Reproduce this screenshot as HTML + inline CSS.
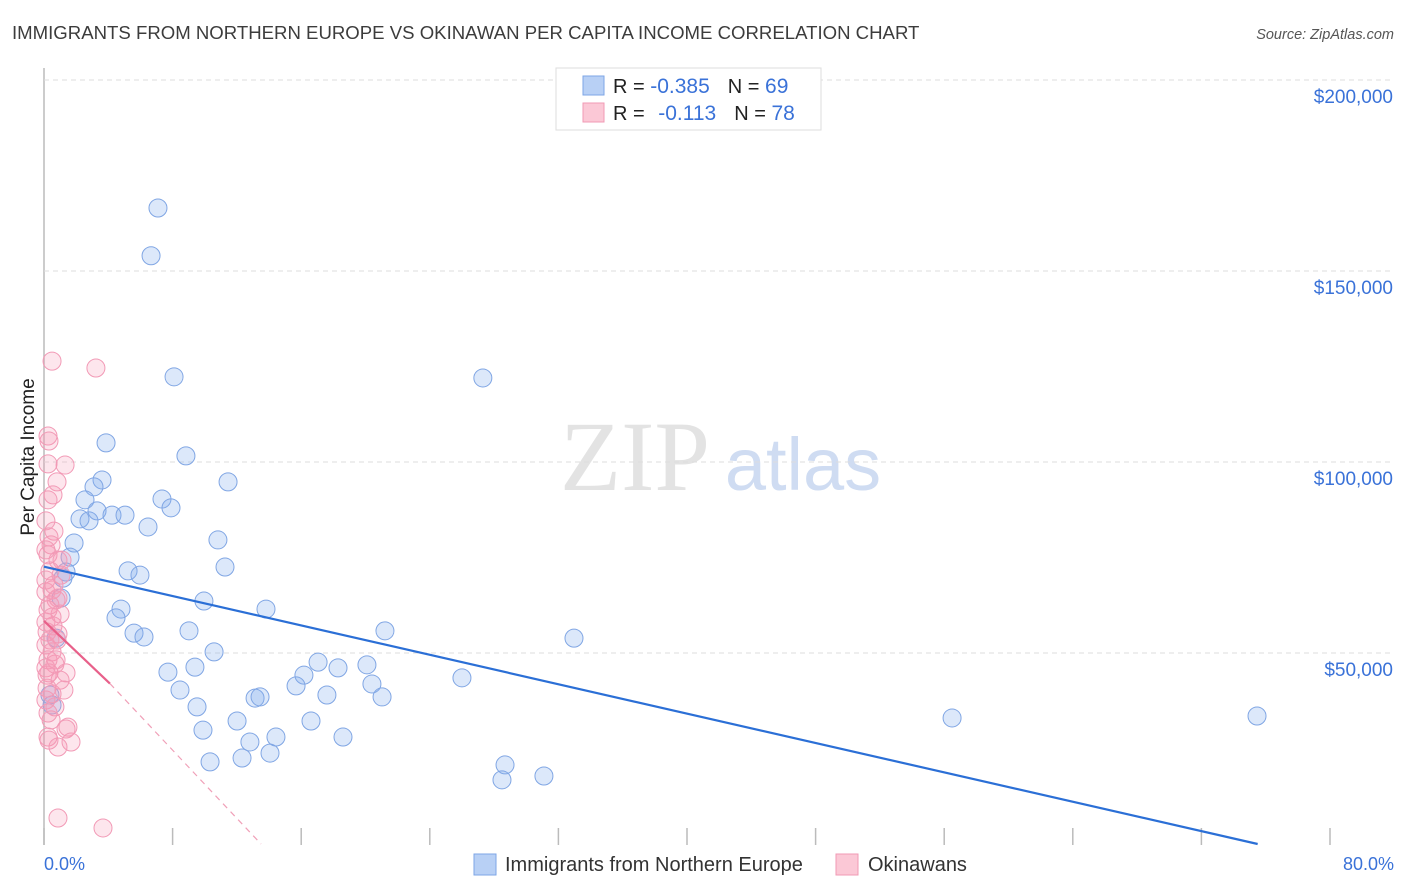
<!DOCTYPE html>
<html><head><meta charset="utf-8"><style>
body{margin:0;background:#fff;font-family:"Liberation Sans",sans-serif;}
svg{display:block}
</style></head><body>
<svg id="chart" width="1406" height="892">
<text x="12" y="39" font-size="18.6" fill="#3c3c3c">IMMIGRANTS FROM NORTHERN EUROPE VS OKINAWAN PER CAPITA INCOME CORRELATION CHART</text>
<text x="1394" y="39" font-size="14.5" fill="#555" font-style="italic" text-anchor="end">Source: ZipAtlas.com</text>
<text x="635" y="490" font-size="100" fill="#e3e3e3" font-family="Liberation Serif,serif" text-anchor="middle">ZIP</text>
<text x="803" y="490" font-size="74" fill="#cfdcf2" text-anchor="middle">atlas</text>
<text transform="translate(34,457) rotate(-90)" font-size="19" fill="#222" text-anchor="middle">Per Capita Income</text>
<g id="grid"></g><g id="marks"></g>
<rect x="556" y="68" width="265" height="62" fill="#fff" stroke="#ddd"/>
<rect x="583" y="76" width="21" height="19" fill="#b8d0f5" stroke="#7ea6e6"/>
<text x="613" y="93" font-size="20" fill="#222">R = <tspan fill="#3a72d8" font-size="21">-0.385</tspan><tspan dx="18">N = </tspan><tspan fill="#3a72d8" font-size="21">69</tspan></text>
<rect x="583" y="103" width="21" height="19" fill="#fbc8d6" stroke="#f09ab4"/>
<text x="613" y="120" font-size="20" fill="#222">R = <tspan dx="8" fill="#3a72d8" font-size="21">-0.113</tspan><tspan dx="18">N = </tspan><tspan fill="#3a72d8" font-size="21">78</tspan></text>
<text x="44" y="870" font-size="18" fill="#3a72d8">0.0%</text>
<text x="1394" y="870" font-size="18" fill="#3a72d8" text-anchor="end">80.0%</text>
<rect x="474" y="854" width="22" height="21" fill="#b8d0f5" stroke="#7ea6e6"/>
<text x="505" y="871" font-size="20" fill="#333">Immigrants from Northern Europe</text>
<rect x="836" y="854" width="22" height="21" fill="#fbc8d6" stroke="#f09ab4"/>
<text x="868" y="871" font-size="20" fill="#333">Okinawans</text>
</svg>
<script>
const yTicks=[50,100,150,200];
const yTickLabels=["$50,000","$100,000","$150,000","$200,000"];
const xTicks=[0,8,16,24,32,40,48,56,64,72,80];
const blueX=[7.09,6.66,8.09,27.3,3.86,8.83,3.61,11.45,3.11,2.55,7.34,7.9,2.24,2.8,3.3,4.23,5.04,6.47,1.87,10.82,1.62,1.37,11.26,5.23,5.97,1.06,4.79,9.95,13.81,4.48,5.6,6.22,9.02,21.21,32.97,0.75,10.58,9.39,7.71,17.05,18.29,20.09,16.17,8.46,15.68,17.6,20.4,21.03,13.13,13.44,26.0,9.52,12.01,16.61,9.89,56.49,75.46,12.81,14.43,18.6,10.33,12.32,14.06,28.68,28.49,31.1,0.5,0.37,1.18];
const blueY=[166.5,154.0,122.3,122.0,105.0,101.6,95.3,94.8,93.5,90.1,90.3,88.0,85.1,84.6,87.2,86.1,86.1,83.0,78.8,79.6,75.1,71.2,72.5,71.5,70.4,64.4,61.5,63.6,61.5,59.2,55.2,54.2,55.8,55.8,53.9,53.9,50.3,46.3,45.0,47.6,46.1,46.9,44.2,40.3,41.4,39.0,41.9,38.5,38.2,38.5,43.5,35.9,32.2,32.2,29.8,33.0,33.5,26.7,28.0,28.0,21.5,22.5,23.8,20.7,16.8,17.8,36.4,39.0,69.6];
const pinkX=[0.5,3.23,0.25,0.31,0.25,1.31,0.81,0.56,0.25,0.62,0.12,0.31,0.44,0.25,0.87,0.37,1.06,0.5,0.12,0.75,0.25,1.0,0.12,0.56,0.19,0.87,0.37,0.12,0.5,0.25,0.68,0.12,0.31,1.37,1.0,0.19,0.5,0.12,0.68,0.25,0.44,1.49,1.37,0.25,0.87,1.68,0.31,0.87,3.67,0.75,0.12,0.62,0.37,0.87,1.12,0.12,0.5,0.81,1.24,0.19];
const pinkY=[126.4,124.6,106.8,105.5,99.5,99.2,94.8,91.4,90.1,81.9,84.6,80.4,78.3,75.7,74.3,71.5,70.4,66.5,66.0,63.9,61.3,60.2,58.1,57.1,55.5,55.0,53.4,52.1,50.3,48.2,47.1,46.1,44.8,44.8,42.9,40.8,39.3,37.7,35.9,34.3,32.5,30.6,30.1,28.0,25.4,26.7,27.2,6.8,4.2,48.2,69.1,67.8,62.6,64.4,74.3,77.0,59.4,53.4,40.3,44.2];
const blueTrend=[[0,72.6],[75.5,0]];
const pinkTrend=[[0,58.4],[4.1,42.0]];
const pinkTrendExt=[[4.1,42.0],[13.5,0]];
const NS="http://www.w3.org/2000/svg";
const X=p=>44+p*16.075, Y=k=>844-k*3.82;
function mk(tag,at,parent){const e=document.createElementNS(NS,tag);for(const k in at)e.setAttribute(k,at[k]);parent.appendChild(e);return e;}
const grid=document.getElementById('grid'),marks=document.getElementById('marks');
let ax=mk('line',{x1:44,y1:68,x2:44,y2:845,stroke:'#bbb','stroke-width':1.5},grid);


yTicks.forEach((t,i)=>{
 const g=mk('line',{x1:44,x2:1394,y1:Y(t),y2:Y(t),stroke:'#ddd','stroke-dasharray':'5,4'},grid);
 
 
 const tx=mk('text',{x:1393,y:Y(t)+23,'font-size':19,fill:'#3a72d8','text-anchor':'end'},grid);
 tx.textContent=yTickLabels[i];
 
 
});
xTicks.forEach(t=>{
 const l=mk('line',{x1:X(t),x2:X(t),y1:828,y2:845,stroke:'#bbb','stroke-width':1.5},grid);
 
 
});
function dots(xs,ys,fill,stroke,name){xs.forEach((x,i)=>{
 const c=mk('circle',{cx:X(x),cy:Y(ys[i]),r:9,fill:fill,stroke:stroke,'stroke-width':1},marks);
 
 
});}
dots(blueX,blueY,'rgba(130,172,238,0.28)','#80a6e4','immigrants-point');
dots(pinkX,pinkY,'rgba(245,150,178,0.24)','#f29ab6','okinawans-point');
function line(pts,st,w,dash,name){
 const l=mk('line',{x1:X(pts[0][0]),y1:Y(pts[0][1]),x2:X(pts[1][0]),y2:Y(pts[1][1]),stroke:st,'stroke-width':w},marks);
 if(dash)l.setAttribute('stroke-dasharray',dash);
 
 
}
line(blueTrend,'#2b6fd6',2.2,null,'immigrants-trend-line');
line(pinkTrend,'#e8608a',2.2,null,'okinawans-trend-line');
line(pinkTrendExt,'#f0a0b8',1.2,'6,5','okinawans-trend-extension');
</script>
</body></html>
